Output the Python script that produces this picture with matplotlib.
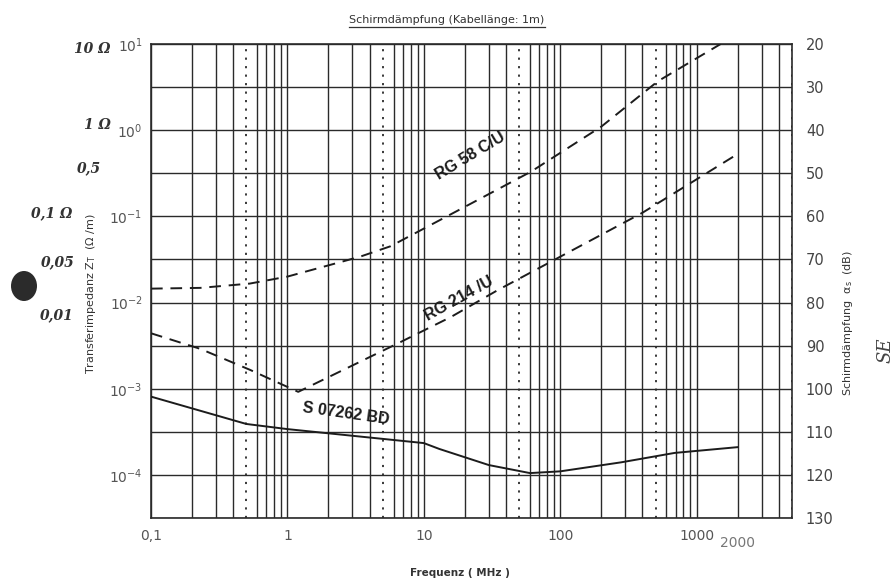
import numpy as np
import matplotlib.pyplot as plt
from matplotlib.lines import Line2D
from matplotlib.patches import Ellipse

# Kurvenwerte (Frequenz in MHz, Transferimpedanz in Ohm/m)
freq_rg58 = [0.1, 0.23, 0.53, 1.0, 3.4, 5.7, 16, 61, 200, 520, 1500]
zt_rg58 = [0.0145, 0.0148, 0.0166, 0.020, 0.034, 0.045, 0.107, 0.33, 1.1, 3.7, 10.0]

freq_rg214 = [0.1, 0.23, 0.53, 1.2, 6.8, 15.8, 35, 400, 2000]
zt_rg214 = [0.0044, 0.0029, 0.00166, 0.00092, 0.0035, 0.0068, 0.014, 0.11, 0.53]

freq_s07262 = [0.1, 0.5, 1.0, 10, 13, 30, 60, 100, 280, 690, 2000]
zt_s07262 = [0.00081, 0.00039, 0.00034, 0.000234, 0.0002, 0.00013, 0.000105, 0.00011, 0.00014, 0.00018, 0.00021]

x_ticks = [0.1, 1, 10, 100, 1000]
x_ticklabels = ['0,1', '1', '10', '100', '1000']
y_ticks = [1e1, 1e0, 1e-1, 1e-2, 1e-3, 1e-4]
y_ticklabels = ['$10^{1}$', '$10^{0}$', '$10^{-1}$', '$10^{-2}$', '$10^{-3}$', '$10^{-4}$']
db_ticks = [20, 30, 40, 50, 60, 70, 80, 90, 100, 110, 120, 130]

# handschriftliche Notizen am linken Rand (Pixelpositionen)
notes = ['10 Ω', '1 Ω', '0,5', '0,1 Ω', '0,05', '0,01']
notes_x = [92, 97, 89, 52, 58, 57]
notes_y = [49, 125, 168, 213, 262, 315]

ink = '#1c1c1c'
grid_c = '#2a2a2a'

fig = plt.figure(figsize=(8.95, 5.87), dpi=100)
ax = fig.add_axes([151 / 895, 1 - 518 / 587, (792 - 151) / 895, (518 - 44) / 587])

xmin, xmax = 0.1, 5000
ymin, ymax = 10 ** -4.5, 10.0
ax.set_xscale('log')
ax.set_yscale('log')
ax.set_xlim(xmin, xmax)
ax.set_ylim(ymin, ymax)

# Gitter: waagerecht alle halbe Dekade, senkrecht 1..9 je Dekade (5 gepunktet)
for k in np.arange(-4.5, 1.01, 0.5):
    ax.axhline(10 ** k, color=grid_c, lw=1.0, zorder=1)
for dec in [0.1, 1, 10, 100, 1000]:
    for m in range(1, 10):
        f = dec * m
        if f > xmax:
            break
        if m == 5:
            ax.axvline(f, color=grid_c, lw=1.3, ls=(0, (1.2, 3.5)), zorder=1)
        else:
            ax.axvline(f, color=grid_c, lw=1.0, zorder=1)

ax.plot(freq_rg58, zt_rg58, color=ink, lw=1.4, ls=(0, (6, 4)), zorder=3)
ax.plot(freq_rg214, zt_rg214, color=ink, lw=1.4, ls=(0, (6, 4)), zorder=3)
ax.plot(freq_s07262, zt_s07262, color=ink, lw=1.4, zorder=3)

lab_font = dict(family='Liberation Sans', fontsize=11.5, fontweight='bold', color=ink)
ax.text(22, 0.5, 'RG 58 C/U', rotation=31, ha='center', va='center', **lab_font)
ax.text(18, 0.0112, 'RG 214 /U', rotation=29, ha='center', va='center', **lab_font)
ax.text(2.7, 0.00051, 'S 07262 BD', rotation=-8, ha='center', va='center', **lab_font)

for s in ax.spines.values():
    s.set_color(grid_c)
    s.set_linewidth(1.2)

ax.minorticks_off()
ax.set_xticks(x_ticks)
ax.set_xticklabels(x_ticklabels)
ax.set_yticks(y_ticks)
ax.set_yticklabels(y_ticklabels)
ax.tick_params(axis='both', length=0, labelsize=10, labelcolor='#555555', pad=8)
ax.tick_params(axis='y', pad=6)
ax.text(2000, ymin * 0.62, '2000', ha='center', va='top', fontsize=10, color='#777777')

# rechte Achse: Schirmdämpfung in dB (20 dB je Dekade)
ax2 = ax.twinx()
ax2.set_ylim(130, 20)
ax2.set_yticks(db_ticks)
ax2.tick_params(axis='y', length=0, labelsize=10.5, labelcolor='#444444', pad=10)
for s in ax2.spines.values():
    s.set_visible(False)

fig.text(91 / 895, 1 - 294 / 587, 'Transferimpedanz Z$_\\mathregular{T}$  (Ω /m)',
         rotation=90, ha='center', va='center', fontsize=8, color='#333333')
fig.text(848 / 895, 1 - 323 / 587, 'Schirmdämpfung  α$_\\mathregular{s}$  (dB)',
         rotation=90, ha='center', va='center', fontsize=8, color='#333333')
fig.text(460 / 895, 1 - 573 / 587, 'Frequenz ( MHz )', ha='center', va='center',
         fontsize=7.5, fontweight='bold', color='#333333')

title = fig.text(447 / 895, 1 - 20 / 587, 'Schirmdämpfung (Kabellänge: 1m)',
                 ha='center', va='center', fontsize=8, color='#333333')
fig.canvas.draw()
bb = title.get_window_extent().transformed(fig.transFigure.inverted())
fig.add_artist(Line2D([bb.x0, bb.x1], [bb.y0 - 0.004, bb.y0 - 0.004],
                      transform=fig.transFigure, color='#333333', lw=0.9))

for txt, x, y in zip(notes, notes_x, notes_y):
    fig.text(x / 895, 1 - y / 587, txt, ha='center', va='center', fontsize=10,
             style='italic', fontweight='bold', family='DejaVu Serif', color='#333333')
fig.text(885 / 895, 1 - 350 / 587, 'SE', rotation=90, ha='center', va='center',
         fontsize=13, style='italic', family='DejaVu Serif', color='#444444')

# Lochstempel am linken Rand
fig.add_artist(Ellipse((24 / 895, 1 - 286 / 587), 26 / 895, 30 / 587,
                       transform=fig.transFigure, facecolor='#2b2b2b', edgecolor='none'))

fig.savefig('out.png', dpi=100, facecolor='white')
